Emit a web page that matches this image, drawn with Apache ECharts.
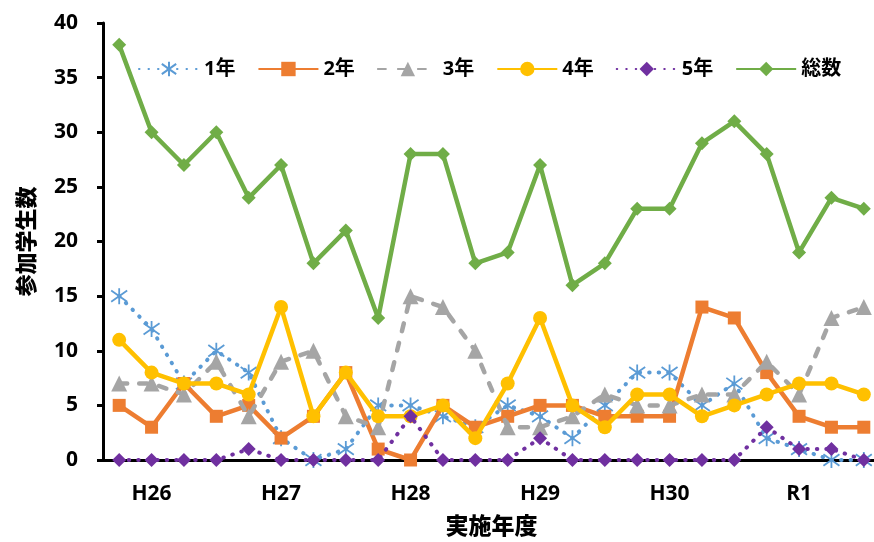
<!DOCTYPE html>
<html>
<head>
<meta charset="utf-8">
<script src="https://cdn.jsdelivr.net/npm/echarts@6/dist/echarts.min.js"></script>
<style>html,body{margin:0;padding:0;background:#fff}#c{width:874px;height:542px}</style>
</head>
<body>
<div id="c"></div>
<script>
const yearLabels = ['H26', 'H27', 'H28', 'H29', 'H30', 'R1'];
const quarters = ['1', '2', '3', '4'];
const year1 = [15, 12, 7, 10, 8, 2, 0, 1, 5, 5, 4, 3, 5, 4, 2, 5, 8, 8, 5, 7, 2, 1, 0, 0];
const year2 = [5, 3, 7, 4, 5, 2, 4, 8, 1, 0, 5, 3, 4, 5, 5, 4, 4, 4, 14, 13, 8, 4, 3, 3];
const year3 = [7, 7, 6, 9, 4, 9, 10, 4, 3, 15, 14, 10, 3, 3, 4, 6, 5, 5, 6, 6, 9, 6, 13, 14];
const year4 = [11, 8, 7, 7, 6, 14, 4, 8, 4, 4, 5, 2, 7, 13, 5, 3, 6, 6, 4, 5, 6, 7, 7, 6];
const year5 = [0, 0, 0, 0, 1, 0, 0, 0, 0, 4, 0, 0, 0, 2, 0, 0, 0, 0, 0, 0, 3, 1, 1, 0];
const total = [38, 30, 27, 30, 24, 27, 18, 21, 13, 28, 28, 18, 19, 27, 16, 18, 23, 23, 29, 31, 28, 19, 24, 23];
const seriesNames = ['1年', '2年', '3年', '4年', '5年', '総数'];
const yTicks = [0, 5, 10, 15, 20, 25, 30, 35, 40];

const categories = [];
yearLabels.forEach(y => quarters.forEach(q => categories.push(y + '-' + q)));

const FONT = '"Open Sans", "Noto Sans CJK JP", sans-serif';
const JFONT = '"Noto Sans CJK JP", sans-serif';
const asterisk = 'path://M0,-10L0,10M-7.07,-7.07L7.07,7.07M-7.07,7.07L7.07,-7.07';

const chart = echarts.init(document.getElementById('c'));
chart.setOption({
  animation: false,
  backgroundColor: '#fff',
  textStyle: { fontFamily: FONT },
  legend: {
    top: 54,
    left: 133,
    itemWidth: 60,
    itemHeight: 18,
    itemGap: 22,
    textStyle: { fontSize: 20, fontWeight: 'bold', color: '#000', fontFamily: FONT },
    data: seriesNames
  },
  grid: { left: 103, top: 23, width: 777, height: 437, containLabel: false, outerBoundsMode: 'none' },
  xAxis: {
    type: 'category',
    data: categories,
    boundaryGap: true,
    name: '実施年度',
    nameLocation: 'middle',
    nameGap: 54,
    nameTextStyle: { fontSize: 23, fontWeight: 900, color: '#000', fontFamily: JFONT },
    axisLine: { lineStyle: { color: '#000', width: 3 } },
    axisTick: { show: false },
    axisLabel: {
      interval: (i) => i % 4 === 1,
      formatter: (v) => v.split('-')[0],
      fontSize: 21, fontWeight: 'bold', color: '#000', margin: 24
    },
    splitLine: { show: false }
  },
  yAxis: {
    type: 'value',
    min: yTicks[0],
    max: yTicks[yTicks.length - 1],
    interval: 5,
    name: '参加学生数',
    nameLocation: 'middle',
    nameGap: 66,
    nameRotate: 90,
    nameTextStyle: { fontSize: 22, fontWeight: 900, color: '#000', fontFamily: JFONT },
    axisLine: { show: true, lineStyle: { color: '#000', width: 3 } },
    axisTick: { show: true, inside: false, length: 6, lineStyle: { color: '#000', width: 3 } },
    axisLabel: { fontSize: 21, fontWeight: 'bold', color: '#000', margin: 25 },
    splitLine: { show: false }
  },
  series: [
    {
      name: seriesNames[0], type: 'line', data: year1,
      symbol: asterisk, symbolSize: 16,
      lineStyle: { color: '#5B9BD5', width: 4, type: [0.5, 9], cap: 'round' },
      itemStyle: { color: 'rgba(0,0,0,0)', borderColor: '#5B9BD5', borderWidth: 1.8 },
      z: 2
    },
    {
      name: seriesNames[1], type: 'line', data: year2,
      symbol: 'rect', symbolSize: 13,
      lineStyle: { color: '#ED7D31', width: 4.5 },
      itemStyle: { color: '#ED7D31' },
      z: 3
    },
    {
      name: seriesNames[2], type: 'line', data: year3,
      symbol: 'triangle', symbolSize: 16,
      lineStyle: { color: '#A5A5A5', width: 4.5, type: [8, 12], cap: 'round' },
      itemStyle: { color: '#A5A5A5' },
      z: 4
    },
    {
      name: seriesNames[3], type: 'line', data: year4,
      symbol: 'circle', symbolSize: 14,
      lineStyle: { color: '#FFC000', width: 4.5 },
      itemStyle: { color: '#FFC000' },
      z: 5
    },
    {
      name: seriesNames[4], type: 'line', data: year5,
      symbol: 'diamond', symbolSize: 14,
      lineStyle: { color: '#7030A0', width: 4, type: [0.5, 9], cap: 'round' },
      itemStyle: { color: '#7030A0' },
      z: 6
    },
    {
      name: seriesNames[5], type: 'line', data: total,
      symbol: 'diamond', symbolSize: 14,
      lineStyle: { color: '#70AD47', width: 4.5 },
      itemStyle: { color: '#70AD47' },
      z: 7
    }
  ]
});
</script>
</body>
</html>
